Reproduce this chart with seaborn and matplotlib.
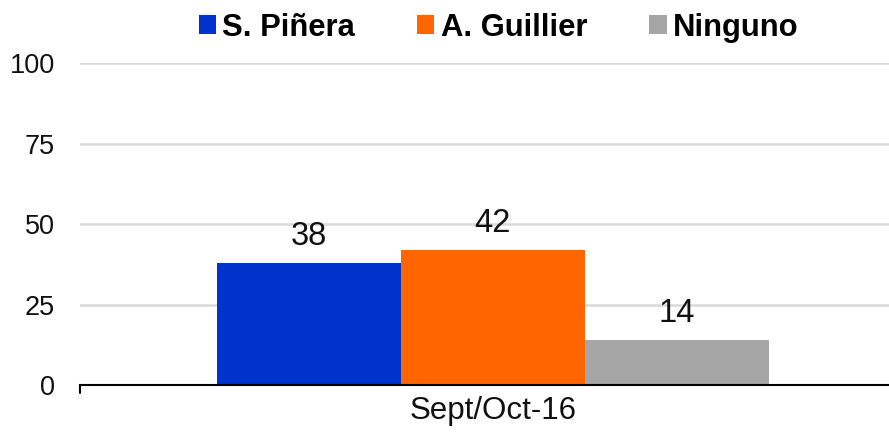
import matplotlib
matplotlib.use("Agg")
import matplotlib.pyplot as plt
import seaborn as sns
import pandas as pd
from matplotlib.patches import Patch

periods = ["Sept/Oct-16"]
candidates = ["S. Piñera", "A. Guillier", "Ninguno"]
values = [38, 42, 14]
colors = ["#0033CC", "#FF6600", "#A6A6A6"]
yticks = [0, 25, 50, 75, 100]

df = pd.DataFrame({"period": periods * len(candidates), "candidate": candidates, "value": values})

sns.set_theme(style="white")
plt.rcParams["font.family"] = ["Liberation Sans", "DejaVu Sans"]

fig = plt.figure(figsize=(8.89, 4.38), dpi=100)
ax = fig.add_axes([0.09, 0.121, 0.91, 0.735])

sns.barplot(data=df, x="period", y="value", hue="candidate", hue_order=candidates,
            palette=colors, width=0.8, saturation=1, ax=ax, legend=False, linewidth=0)

for c in ax.containers:
    ax.bar_label(c, labels=[f"{v:.0f}" for v in c.datavalues], padding=8, fontsize=23.5, color="#111111")

ax.set_ylim(0, 100)
ax.set_xlim(-0.598, 0.574)
ax.set_yticks(yticks)
ax.set_yticklabels([str(t) for t in yticks], fontsize=19.5, color="#111111")
ax.tick_params(axis="y", length=0, pad=18)
ax.tick_params(axis="x", length=0, pad=8, labelsize=22.5, labelcolor="#111111")
ax.yaxis.grid(True, color="#D9D9D9", linewidth=1.8)
ax.set_axisbelow(True)
for s in ["top", "right", "left"]:
    ax.spines[s].set_visible(False)
ax.spines["bottom"].set_color("black")
ax.spines["bottom"].set_linewidth(1.5)
ax.plot([0, 0], [0, -0.025], transform=ax.transAxes, color="black", lw=1.5, clip_on=False)
ax.set_xlabel("")
ax.set_ylabel("")

handles = [Patch(facecolor=c, edgecolor="none") for c in colors]
leg = fig.legend(handles, candidates, loc="center", bbox_to_anchor=(0.561, 0.937), ncol=3,
                 frameon=False, prop={"weight": "bold", "size": 22.3}, handlelength=0.55,
                 handleheight=0.55, handletextpad=0.22, columnspacing=2.0)
for t in leg.get_texts():
    t.set_color("#000000")

fig.savefig("out.png", dpi=100)
